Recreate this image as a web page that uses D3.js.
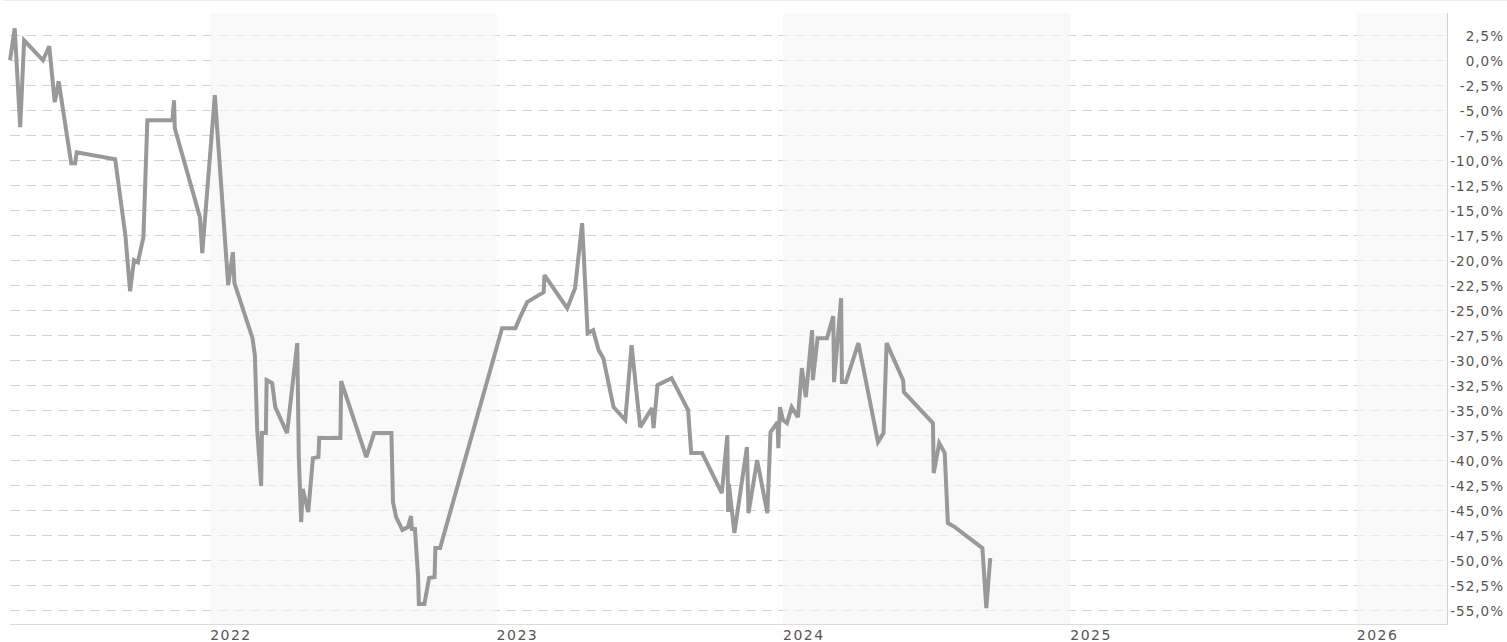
<!DOCTYPE html>
<html>
<head>
<meta charset="utf-8">
<script src="https://cdn.jsdelivr.net/npm/d3@7"></script>
<style>
  html, body { margin: 0; padding: 0; background: #fff; }
  svg { display: block; }
  text { font-family: "DejaVu Sans", Verdana, sans-serif; fill: #555; }
</style>
</head>
<body>
<svg id="chart" width="1507" height="642"></svg>
<script>
// ---- data ----
const dates = [
  "2021-04-21","2021-04-27","2021-05-04","2021-05-09","2021-06-02","2021-06-10","2021-06-17","2021-06-22",
  "2021-07-08","2021-07-13","2021-07-15","2021-09-02","2021-09-15","2021-09-21","2021-09-26","2021-10-01",
  "2021-10-08","2021-10-13","2021-11-14","2021-11-16","2021-11-17","2021-12-19","2021-12-22",
  "2022-01-07","2022-01-24","2022-01-30","2022-02-01","2022-02-24","2022-02-27","2022-03-02","2022-03-07",
  "2022-03-08","2022-03-13","2022-03-14","2022-03-21","2022-03-25","2022-04-09","2022-04-22","2022-04-24",
  "2022-04-27","2022-04-29","2022-05-06","2022-05-12","2022-05-19","2022-05-20","2022-06-16","2022-06-17",
  "2022-07-19","2022-07-29","2022-08-20","2022-08-22","2022-08-26","2022-09-03","2022-09-10","2022-09-14",
  "2022-09-15","2022-09-19","2022-09-23","2022-09-24","2022-10-01","2022-10-07","2022-10-14","2022-10-15",
  "2022-10-21",
  "2023-01-08","2023-01-25","2023-01-31","2023-02-09","2023-03-02","2023-03-03","2023-04-01","2023-04-11",
  "2023-04-20","2023-04-27","2023-05-04","2023-05-11","2023-05-17","2023-05-30","2023-06-14","2023-06-22",
  "2023-06-28","2023-07-03","2023-07-18","2023-07-20","2023-07-25","2023-08-12","2023-09-02","2023-09-06",
  "2023-09-20","2023-10-15","2023-10-22","2023-10-23","2023-10-24","2023-10-31","2023-11-16","2023-11-18",
  "2023-11-29","2023-12-12","2023-12-16","2023-12-25","2023-12-26","2023-12-28",
  "2024-01-01","2024-01-06","2024-01-12","2024-01-20","2024-01-25","2024-01-30","2024-02-07","2024-02-08",
  "2024-02-14","2024-02-26","2024-03-05","2024-03-06","2024-03-15","2024-03-16","2024-03-21","2024-04-06",
  "2024-05-01","2024-05-08","2024-05-12","2024-06-02","2024-06-03","2024-07-10","2024-07-11","2024-07-18",
  "2024-07-25","2024-07-29","2024-08-07","2024-09-11","2024-09-16","2024-09-21"
];
const performance = [
  0.0, 3.2, -6.7, 2.0, 0.0, 1.4, -4.2, -2.1,
  -10.3, -10.3, -9.2, -9.9, -17.5, -23.1, -20.0, -20.2,
  -17.7, -6.0, -6.0, -4.0, -6.8, -15.7, -19.3,
  -3.5, -22.5, -19.2, -22.3, -27.8, -29.5, -37.0, -42.6,
  -37.3, -37.3, -32.0, -32.3, -34.7, -37.3, -28.3, -39.7,
  -46.2, -42.9, -45.2, -39.8, -39.7, -37.8, -37.8, -32.1,
  -39.7, -37.3, -37.3, -44.2, -45.7, -47.0, -46.7, -45.6,
  -46.9, -46.9, -51.7, -54.4, -54.4, -51.8, -51.7, -48.8,
  -48.8,
  -26.8, -26.8, -25.7, -24.2, -23.2, -21.5, -24.8, -22.8,
  -16.3, -27.3, -27.0, -29.0, -29.8, -34.7, -36.0, -28.5,
  -33.0, -36.7, -34.8, -36.8, -32.5, -31.8, -35.0, -39.3,
  -39.3, -43.3, -37.5, -45.2, -42.4, -47.3, -38.7, -45.3,
  -40.0, -45.3, -37.2, -36.2, -38.8, -34.7,
  -36.0, -36.3, -34.7, -35.7, -30.8, -33.7, -27.0, -32.0,
  -27.8, -27.8, -25.6, -32.2, -23.8, -32.2, -32.2, -28.3,
  -38.2, -37.3, -28.3, -32.0, -33.2, -36.3, -41.3, -38.3,
  -39.3, -46.3, -46.7, -48.8, -54.8, -49.8
];
const yearLabels = ["2022", "2023", "2024", "2025", "2026"];
const shadedYears = ["2022", "2024", "2026"];
const yTicks = [2.5, 0, -2.5, -5, -7.5, -10, -12.5, -15, -17.5, -20, -22.5, -25, -27.5,
  -30, -32.5, -35, -37.5, -40, -42.5, -45, -47.5, -50, -52.5, -55];
const xDomain = ["2021-04-21", "2026-04-26"];
const yDomain = [4.73, -56.4];

// ---- drawing ----
(function () {
  const parse = d3.utcParse("%Y-%m-%d");
  const data = dates.map((d, i) => ({ date: parse(d), value: performance[i] }));

  const plotL = 10, plotR = 1447, plotT = 13, plotB = 624;
  const x = d3.scaleUtc().domain(xDomain.map(parse)).range([plotL, plotR]);
  const y = d3.scaleLinear().domain(yDomain).range([plotT, plotB]);

  const svg = d3.select("#chart");

  // top frame line
  svg.append("line").attr("x1", 3).attr("x2", 1507).attr("y1", 0.5).attr("y2", 0.5)
    .attr("stroke", "#ebebeb").attr("stroke-width", 1);

  // gridlines
  svg.append("g").selectAll("line").data(yTicks).join("line")
    .attr("x1", plotL).attr("x2", plotR)
    .attr("y1", d => Math.round(y(d)) + 0.5).attr("y2", d => Math.round(y(d)) + 0.5)
    .attr("stroke", "#d2d2d2").attr("stroke-width", 1).attr("stroke-dasharray", "10,6");

  // alternating year bands (drawn over the grid, semi-transparent)
  svg.append("g").selectAll("rect").data(shadedYears).join("rect")
    .attr("x", d => x(parse(d + "-01-01")))
    .attr("width", d => Math.min(x(parse((+d + 1) + "-01-01")), plotR) - x(parse(d + "-01-01")))
    .attr("y", plotT).attr("height", plotB - plotT)
    .attr("fill", "rgb(246,246,246)").attr("fill-opacity", 0.65);

  // axis lines
  svg.append("line").attr("x1", plotL).attr("x2", plotR + 1)
    .attr("y1", plotB + 0.5).attr("y2", plotB + 0.5).attr("stroke", "#dcdcdc");
  svg.append("line").attr("x1", plotR + 0.5).attr("x2", plotR + 0.5)
    .attr("y1", plotT).attr("y2", plotB).attr("stroke", "#d0d0d0");

  // performance line
  const line = d3.line().x(d => x(d.date)).y(d => y(d.value));
  svg.append("path").datum(data)
    .attr("d", line)
    .attr("fill", "none").attr("stroke", "#999").attr("stroke-width", 4)
    .attr("stroke-linejoin", "miter").attr("stroke-miterlimit", 3);

  // y labels (right side)
  const fmt = v => v.toFixed(1).replace(".", ",") + "%";
  svg.append("g").selectAll("text").data(yTicks).join("text")
    .attr("x", 1504).attr("y", d => y(d) + 6)
    .attr("text-anchor", "end")
    .attr("font-size", "13.5px").attr("letter-spacing", "1px")
    .text(fmt);

  // x labels (years)
  svg.append("g").selectAll("text").data(yearLabels).join("text")
    .attr("x", d => x(parse(d + "-01-01")))
    .attr("y", 640)
    .attr("font-size", "14px").attr("letter-spacing", "1.5px")
    .text(d => d);
})();
</script>
</body>
</html>
